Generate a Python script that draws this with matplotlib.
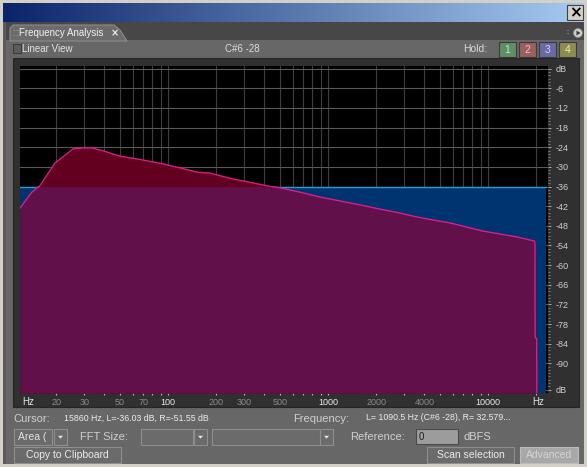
import numpy as np
import matplotlib
matplotlib.use("Agg")
import matplotlib.pyplot as plt
from matplotlib.patches import Rectangle, Polygon, Circle
from matplotlib.ticker import FixedLocator, FixedFormatter, NullFormatter

# ---- spectrum data -------------------------------------------------------
# right channel (sloped spectrum), Hz / dB
freq_r = [11.885, 14.1, 15.8, 19.7, 25.5, 29.4, 33.5, 39.3, 50, 69.8, 93, 119,
          152, 183, 255, 340, 416, 501, 668, 891, 1189, 1585, 2113, 2818,
          3597, 4529, 5788, 7391, 9306, 11885, 15170, 19390, 19660, 19700,
          20150, 20200]
db_r = [-42.6, -37.7, -35.8, -28.8, -24.5, -24.2, -24.2, -25.1, -26.7, -27.9,
        -29.1, -30.3, -31.6, -31.9, -33.7, -34.9, -35.8, -36.4, -37.7, -39.2,
        -40.4, -41.6, -42.9, -44.1, -45.3, -46.2, -47.1, -48.4, -49.6, -50.5,
        -51.4, -52.6, -53.0, -82.0, -82.5, -99.0]
# left channel (flat spectrum)
freq_l = [11.885, 23000]
db_l = [-36.0, -36.0]

# axis ticks
db_ticks = [0, -6, -12, -18, -24, -30, -36, -42, -48, -54, -60, -66, -72,
            -78, -84, -90, -98]
db_labels = ["dB", "-6", "-12", "-18", "-24", "-30", "-36", "-42", "-48",
             "-54", "-60", "-66", "-72", "-78", "-84", "-90", "dB"]
hz_ticks = [20, 30, 50, 70, 100, 200, 300, 500, 1000, 2000, 4000, 10000]
hz_labels = ["20", "30", "50", "70", "100", "200", "300", "500", "1000",
             "2000", "4000", "10000"]
hz_bright = ["100", "1000", "10000"]
hz_minor = [40, 60, 80, 90, 400, 600, 700, 800, 900, 3000, 5000, 6000, 7000,
            8000, 9000, 20000]

FONT = "Liberation Sans"
PANEL = "#676767"
FRAME = "#303030"
TXT = "#d6d6d6"

W, H = 587, 467
fig = plt.figure(figsize=(W / 100, H / 100), dpi=100, facecolor=PANEL)

# ---- window chrome (pixel coordinates, y downward) ----------------------
ui = fig.add_axes([0, 0, 1, 1], zorder=0)
ui.set_axis_off()


def rect(x, y, w, h, fc, ec="none", lw=0.8, z=1):
    ui.add_patch(Rectangle((x, y), w, h, facecolor=fc, edgecolor=ec,
                           linewidth=lw, zorder=z))


def label(x, y, s, size=7.5, color=TXT, ha="left", **kw):
    ui.text(x, y, s, fontsize=size, color=color, ha=ha, va="center",
            family=kw.pop("family", FONT), zorder=5, **kw)


# outer border
rect(0, 0, W, H, "#d4d0c8")
rect(3, 22, W - 6, H - 25, PANEL)
rect(3, 22, 3, H - 25, "#5a5a5a")

# title bar gradient
grad = np.linspace(0, 1, 256)
c0 = np.array([0x0a, 0x24, 0x6a]) / 255
c1 = np.array([0xa6, 0xca, 0xf0]) / 255
img = (c0[None, :] * (1 - grad[:, None]) + c1[None, :] * grad[:, None])[None]
ui.imshow(img, extent=(3, W - 3, 22, 3), aspect="auto", interpolation="bilinear",
          zorder=1)
rect(567, 5, 16, 15, "#d4d0c8", "#404040", 0.8, z=2)
ui.text(575, 12.8, "×", fontsize=11, fontweight="bold", color="black",
        ha="center", va="center", family="DejaVu Sans", zorder=5)

# tab strip
rect(6, 22, W - 9, 18, "#474747")
ui.add_patch(Polygon([(10, 41), (10, 28), (13, 25), (114, 25), (120, 30),
                      (127, 41)], closed=True, facecolor="#6c6c6c",
                     edgecolor="#8c8c8c", linewidth=0.8, zorder=2))
label(12.5, 33.5, ":", size=7, color="#bdbdbd")
label(15.5, 33.5, ":", size=7, color="#bdbdbd")
label(19, 33.5, "Frequency Analysis", size=7, color="#f2f2f2")
ui.text(115, 33.5, "×", fontsize=7, fontweight="bold", color="#eeeeee",
        ha="center", va="center", family="DejaVu Sans", zorder=5)
label(565, 33, "::", size=6, color="#9a9a9a")
ui.add_patch(Circle((578, 33), 4.5, facecolor="#cfcfcf", edgecolor="#888888",
                    linewidth=0.6, zorder=3))
ui.add_patch(Polygon([(576.5, 30.5), (576.5, 35.5), (580.5, 33)], closed=True,
                     facecolor="#3a3a3a", edgecolor="none", zorder=4))

# top option row
rect(13, 44, 8, 9, "#5c5c5c", "#3c3c3c", 0.8, z=2)
label(22, 49, "Linear View", size=7, color="#e4e4e4")
label(242, 49, "C#6 -28", size=7, color="#dcdcdc", ha="center")
label(463, 49.5, "Hold:", size=7.5, color="#d8d8d8")
hold_cols = [("#5f8f63", "#bfe8bf"), ("#9a5f60", "#f0c0c0"),
             ("#6a6aa6", "#cfd0ff"), ("#8d8d52", "#ececb0")]
for i, (fc, tc) in enumerate(hold_cols):
    x0 = 499 + i * 20
    rect(x0, 42, 17, 15, fc, "#3a3a3a", 0.8, z=2)
    label(x0 + 8.5, 49.8, str(i + 1), size=7.5, color=tc, ha="center")

# dark frame around the graph
rect(13, 58, 566, 349, FRAME, "#262626", 0.8, z=2)

# bottom axis end labels
label(28, 402, "Hz", size=7, color="#e6e6e6", ha="center")
label(538, 402, "Hz", size=7, color="#e6e6e6", ha="center")

# status line
label(13, 418.5, "Cursor:", size=8, color="#cfcfcf")
label(64, 418, "15860 Hz, L=-36.03 dB, R=-51.55 dB", size=6.3,
      color="#ececec")
label(293, 418.5, "Frequency:", size=8, color="#cfcfcf")
label(366, 418, "L= 1090.5 Hz (C#6 -28), R= 32.579...", size=6.3,
      color="#ececec")

# controls row
BTN, BED = "#6b6b6b", "#8e8e8e"
rect(14, 429, 38, 16, BTN, BED, 0.8, z=2)
label(18, 437.5, "Area (", size=7.5, color="#e2e2e2")
rect(54, 429, 13, 16, BTN, BED, 0.8, z=2)


def arrow(cx, cy):
    ui.add_patch(Polygon([(cx - 2.5, cy - 1.2), (cx + 2.5, cy - 1.2),
                          (cx, cy + 1.6)], closed=True, facecolor="#e8e8e8",
                         edgecolor="none", zorder=4))


arrow(60.5, 437)
label(80, 437.5, "FFT Size:", size=8, color="#cfcfcf")
rect(141, 429, 52, 16, BTN, BED, 0.8, z=2)
rect(194, 429, 13, 16, BTN, BED, 0.8, z=2)
arrow(200.5, 437)
rect(212, 429, 108, 16, BTN, BED, 0.8, z=2)
rect(320, 429, 13, 16, BTN, BED, 0.8, z=2)
arrow(326.5, 437)
label(350, 437.5, "Reference:", size=8, color="#cfcfcf")
rect(416, 429, 42, 15, "#9c9c9c", "#4a4a4a", 0.8, z=2)
label(419, 436.5, "0", size=7, color="#1e1e1e")
label(463, 437.5, "dBFS", size=8, color="#cfcfcf")

# button row
rect(14, 447, 107, 16, BTN, BED, 0.8, z=2)
label(67.5, 455, "Copy to Clipboard", size=7.5, color="#ececec", ha="center")
rect(427, 447, 87, 16, BTN, BED, 0.8, z=2)
label(470.5, 455, "Scan selection", size=7.5, color="#ececec", ha="center")
rect(520, 447, 58, 16, "#a8a8a8", "#bcbcbc", 0.8, z=2)
label(549, 455, "Advanced", size=7.5, color="#d4d4d4", ha="center")

ui.set_xlim(0, W)
ui.set_ylim(H, 0)

# ---- spectrum graph -----------------------------------------------------
gx0, gx1, gy0, gy1 = 20, 548, 66, 393
ax = fig.add_axes([gx0 / W, 1 - gy1 / H, (gx1 - gx0) / W, (gy1 - gy0) / H],
                  zorder=2, facecolor="black")
ax.set_xscale("log")
ax.set_xlim(11.885, 23714)
ax.set_ylim(-99.05, 0.82)
for s in ax.spines.values():
    s.set_visible(False)

BOTTOM = -99.05
# left channel level at the right-channel frequencies
l_on_r = np.interp(np.log10(freq_r), np.log10(freq_l), db_l)
both = np.minimum(db_r, l_on_r)

ax.fill_between(freq_l, BOTTOM, db_l, color="#003470", lw=0, zorder=1)
ax.plot(freq_l, db_l, color="#1f9ed8", lw=1.0, zorder=1.1)
ax.fill_between(freq_r, BOTTOM, db_r, color="#64001f", lw=0, zorder=1.2)
ax.fill_between(freq_r, BOTTOM, both, color="#62104a", lw=0, zorder=1.3)
ax.plot(freq_r, db_r, color="#d81f86", lw=1.0, zorder=1.5)

# grid and ticks
ax.set_axisbelow(True)
ax.xaxis.set_major_locator(FixedLocator(hz_ticks))
ax.xaxis.set_major_formatter(FixedFormatter(hz_labels))
ax.xaxis.set_minor_locator(FixedLocator(hz_minor))
ax.xaxis.set_minor_formatter(NullFormatter())
ax.yaxis.tick_right()
ax.yaxis.set_major_locator(FixedLocator(db_ticks))
ax.yaxis.set_major_formatter(FixedFormatter(db_labels))
ax.yaxis.set_minor_locator(FixedLocator(np.arange(-98, 1, 1)))
ax.grid(True, which="both", axis="x", color="#3e3e3e", lw=0.8)
ax.grid(True, which="major", axis="y", color="#585858", lw=0.8)
ax.tick_params(axis="x", which="both", direction="out", length=1.6,
               width=0.8, color="#b8b8b8", pad=1.8, labelsize=6.5)
ax.tick_params(axis="y", which="major", direction="out", length=2.4,
               width=0.7, color="#a8a8a8", pad=3.2, labelsize=6.5,
               labelcolor="#cfcfcf")
ax.tick_params(axis="y", which="minor", direction="out", length=1.2,
               width=0.6, color="#8a8a8a")
for t in ax.get_xticklabels():
    t.set_family(FONT)
    t.set_color("#ececec" if t.get_text() in hz_bright else "#8a8a8a")
for t in ax.get_yticklabels():
    t.set_family(FONT)

fig.savefig("out.png", dpi=100, facecolor=fig.get_facecolor())
